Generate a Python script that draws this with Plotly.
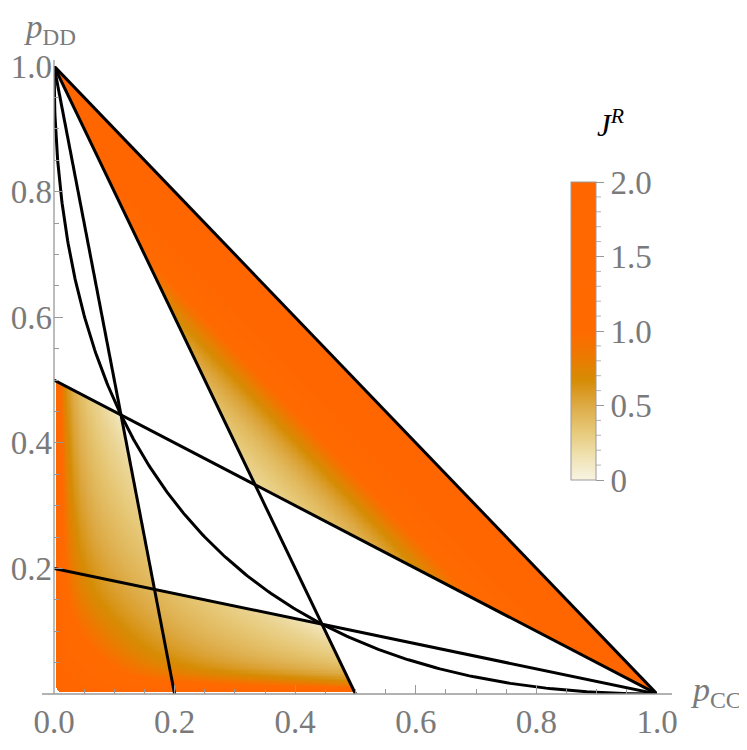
import numpy as np
import plotly.graph_objects as go

# ---------------- data / parameters ----------------
# straight boundary lines  p_CC = a (1 - p_DD)   (through (0,1) and (a,0))
x_line_intercepts = [0.2, 0.5]
# straight boundary lines  p_DD = b (1 - p_CC)   (through (0,b) and (1,0))
y_line_intercepts = [0.2, 0.5]
# diagonal p_CC + p_DD = 1
diag_x = [0.0, 1.0]
diag_y = [1.0, 0.0]
# curve sqrt(p_CC) + sqrt(p_DD) = 1
curve_param = np.linspace(0.0, 1.0, 301)

# colour field parameters (J^R)
a_small, a_large = 0.2, 0.5
upper_offset, upper_scale = 0.24, 0.643
lower_A, lower_B = 0.375, 0.18          # weights of the s-term and the edge terms
lower_p, lower_q, lower_r, soft_n = 0.35, 0.5, 0.6, 4.0
j_max = 2.0

x_ticks = [0.0, 0.2, 0.4, 0.6, 0.8, 1.0]
x_ticktext = ["0.0", "0.2", "0.4", "0.6", "0.8", "1.0"]
y_ticks = [0.2, 0.4, 0.6, 0.8, 1.0]
y_ticktext = ["0.2", "0.4", "0.6", "0.8", "1.0"]
minor_ticks = [round(0.05 * i, 2) for i in range(1, 20) if i % 4 != 0]
cb_ticks = [0, 0.5, 1.0, 1.5, 2.0]
cb_ticktext = ["0", "0.5", "1.0", "1.5", "2.0"]
cb_minor = [0.1, 0.2, 0.3, 0.4, 0.6, 0.7, 0.8, 0.9, 1.1, 1.2, 1.3, 1.4, 1.6, 1.7, 1.8, 1.9]

# ---------------- colour field ----------------
N = 521
gx = np.linspace(0.0, 1.0, N)
gy = np.linspace(0.0, 1.0, N)
X, Y = np.meshgrid(gx, gy)
S = X + Y

with np.errstate(divide="ignore", invalid="ignore", over="ignore"):
    # upper wedge
    s0 = 2 * a_large / (1 + a_large)
    upper = (X >= a_large * (1 - Y)) & (Y >= a_large * (1 - X)) & (S <= 1)
    J_up = upper_offset + upper_scale * (S - s0) / (1 - S)
    # lower cross-shaped region
    regA = (X <= a_small * (1 - Y)) & (Y <= a_large * (1 - X))
    regB = (Y <= a_small * (1 - X)) & (X <= a_large * (1 - Y))
    lower = regA | regB
    U = np.clip(1 - np.sqrt(X) - np.sqrt(Y), 0, None) ** lower_p
    t_s = lower_A * S ** (-lower_r)
    t_x = lower_B * X ** (-lower_q)
    t_y = lower_B * Y ** (-lower_q)
    J_lo = U * (t_s ** soft_n + t_x ** soft_n + t_y ** soft_n) ** (1 / soft_n)

Z = np.full(X.shape, np.nan)
Z[upper] = J_up[upper]
Z[lower] = J_lo[lower]
Z = np.clip(Z, 0, j_max)
# small blank rim at the axes / rounded corner at origin
r = 0.02
corner = (X < r) & (Y < r) & ((X - r) ** 2 + (Y - r) ** 2 > r ** 2)
Z[corner | (X < 0.0025) | (Y < 0.0025)] = np.nan
Z = Z.astype(np.float32)

colorscale = [
    [0.0, "#F7F4E3"],
    [0.085, "#EFE0AE"],
    [0.165, "#E6C877"],
    [0.25, "#DDAA45"],
    [0.335, "#D68C05"],
    [0.42, "#EE7800"],
    [0.5, "#FF6A00"],
    [1.0, "#FF6600"],
]

# ---------------- geometry helpers (pixel layout) ----------------
# the page body has an 8 px default margin, so the figure starts at (8, 8)
OFF = 8
W, H = 739, 734
ml, mt = 46, 58
pw, ph = 603, 628
mr, mb = W - ml - pw, H - mt - ph


def px2paper_x(px):          # px: window pixel
    return (px - OFF - ml) / pw


def py2paper_y(py):          # py: window pixel
    return (mt + ph - (py - OFF)) / ph


cb_top_px, cb_len_px = 182, 298
cb_left_px, cb_thick = 571, 25

GRAY = "#7a7a7a"
TICKGRAY = "#999999"
FONT = "Liberation Serif"

fig = go.Figure()
fig.add_trace(go.Heatmap(
    x=gx, y=gy, z=Z,
    zmin=0, zmax=j_max,
    colorscale=colorscale,
    zsmooth=False,
    hoverinfo="skip",
    colorbar=dict(
        x=px2paper_x(cb_left_px), xanchor="left",
        y=py2paper_y(cb_top_px), yanchor="top",
        len=cb_len_px, lenmode="pixels",
        thickness=cb_thick, thicknessmode="pixels",
        xpad=0, ypad=0,
        outlinewidth=1, outlinecolor="#9a9a9a",
        tickmode="array", tickvals=cb_ticks, ticktext=cb_ticktext,
        ticks="outside", ticklen=8, tickwidth=1, tickcolor=TICKGRAY,
        tickfont=dict(family=FONT, size=33, color=GRAY),
    ),
))

line_style = dict(color="black", width=3)
for a in x_line_intercepts:
    fig.add_trace(go.Scatter(x=[0.0, a], y=[1.0, 0.0], mode="lines",
                             line=line_style, hoverinfo="skip", showlegend=False))
for b in y_line_intercepts:
    fig.add_trace(go.Scatter(x=[0.0, 1.0], y=[b, 0.0], mode="lines",
                             line=line_style, hoverinfo="skip", showlegend=False))
fig.add_trace(go.Scatter(x=diag_x, y=diag_y, mode="lines",
                         line=line_style, hoverinfo="skip", showlegend=False))
fig.add_trace(go.Scatter(x=curve_param ** 2, y=(1 - curve_param) ** 2, mode="lines",
                         line=line_style, hoverinfo="skip", showlegend=False))

axis_common = dict(
    showgrid=False, zeroline=False, showline=False, automargin=False,
    ticks="inside", ticklen=9, tickwidth=1, tickcolor=TICKGRAY,
    tickfont=dict(family=FONT, size=33, color=GRAY),
    tickmode="array",
    minor=dict(tickmode="array", tickvals=minor_ticks, ticks="inside",
               ticklen=5, tickwidth=1, tickcolor=TICKGRAY),
)
fig.update_xaxes(range=[0, 1], tickvals=x_ticks, ticktext=x_ticktext,
                 ticklabelstandoff=5, **axis_common)
fig.update_yaxes(range=[0, 1], tickvals=y_ticks, ticktext=y_ticktext,
                 ticklabelstandoff=1, **axis_common)

shapes = [
    dict(type="line", xref="paper", yref="paper", x0=px2paper_x(42), x1=px2paper_x(672),
         y0=0, y1=0, line=dict(color=TICKGRAY, width=1.3), layer="above"),
    dict(type="line", xref="paper", yref="paper", x0=0, x1=0,
         y0=0, y1=py2paper_y(60), line=dict(color=TICKGRAY, width=1.3), layer="above"),
]
cb_right = px2paper_x(cb_left_px + cb_thick)
for v in cb_minor:
    py = cb_top_px + cb_len_px * (1 - v / j_max)
    shapes.append(dict(type="line", xref="paper", yref="paper",
                       x0=cb_right, x1=px2paper_x(cb_left_px + cb_thick + 5),
                       y0=py2paper_y(py), y1=py2paper_y(py),
                       line=dict(color="#b5b5b5", width=1)))

annotations = [
    dict(text="<i>p</i><sub>DD</sub>", xref="paper", yref="paper",
         x=px2paper_x(22), y=py2paper_y(52), xanchor="left", yanchor="bottom",
         showarrow=False, font=dict(family=FONT, size=33, color=GRAY)),
    dict(text="<i>p</i><sub>CC</sub>", xref="paper", yref="paper",
         x=px2paper_x(689), y=py2paper_y(692), xanchor="left", yanchor="middle",
         showarrow=False, font=dict(family=FONT, size=34, color=GRAY)),
    dict(text="<i>J</i><sup><i>R</i></sup>", xref="paper", yref="paper",
         x=px2paper_x(610), y=py2paper_y(124), xanchor="center", yanchor="middle",
         showarrow=False, font=dict(family=FONT, size=31, color="black")),
]

fig.update_layout(
    width=W, height=H, autosize=False,
    margin=dict(l=ml, r=mr, t=mt, b=mb, autoexpand=False),
    paper_bgcolor="white", plot_bgcolor="white",
    showlegend=False,
    shapes=shapes,
    annotations=annotations,
)

fig.write_html("out.html")
